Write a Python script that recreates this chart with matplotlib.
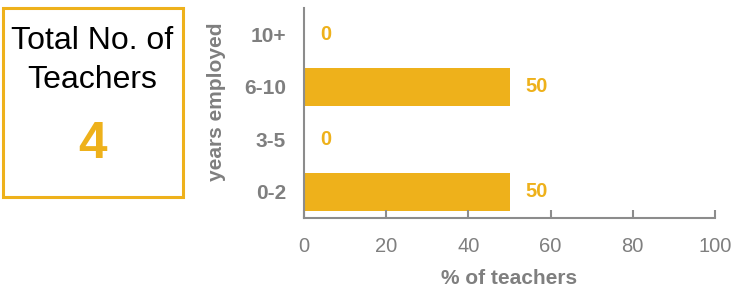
import matplotlib
matplotlib.use("Agg")
import matplotlib.pyplot as plt
from matplotlib.patches import Rectangle

# data
categories = ["0-2", "3-5", "6-10", "10+"]
pct_teachers = [50, 0, 50, 0]
total_teachers = 4
x_ticks = [0, 20, 40, 60, 80, 100]

ORANGE = "#EEB11B"
GRAY = "#7F7F7F"
AXGRAY = "#8C8C8C"

plt.rcParams["font.family"] = ["Liberation Sans", "DejaVu Sans"]

W, H = 736, 288
fig = plt.figure(figsize=(W / 100, H / 100), dpi=100)

# bar chart axes (pixel coords -> figure fractions)
ax_l, ax_r, ax_t, ax_b = 304, 715, 8, 218
ax = fig.add_axes([ax_l / W, 1 - ax_b / H, (ax_r - ax_l) / W, (ax_b - ax_t) / H])

y = range(len(categories))
ax.barh(y, pct_teachers, height=0.72, color=ORANGE)
ax.set_xlim(0, 100)
ax.set_ylim(-0.5, len(categories) - 0.5)
ax.set_xticks(x_ticks)
ax.set_xticklabels([str(t) for t in x_ticks], fontsize=14.5, color=GRAY)
ax.set_yticks(list(y))
ax.set_yticklabels(categories, fontsize=15, fontweight="bold", color=GRAY)

ax.tick_params(axis="x", direction="in", length=6, width=1.5, color=AXGRAY, pad=14)
ax.tick_params(axis="y", length=0, pad=13)
for side in ["top", "right"]:
    ax.spines[side].set_visible(False)
for side in ["left", "bottom"]:
    ax.spines[side].set_color(AXGRAY)
    ax.spines[side].set_linewidth(1.5)

ax.set_xlabel("% of teachers", fontsize=15, fontweight="bold", color=GRAY, labelpad=9)
ax.set_ylabel("years employed", fontsize=15, fontweight="bold", color=GRAY)
ax.yaxis.set_label_coords(-0.19, 0.552)

for yi, v in zip(y, pct_teachers):
    ax.annotate(str(v), (v, yi), xytext=(11.5, 0), textcoords="offset points",
                ha="left", va="center", fontsize=14.5, fontweight="bold", color=ORANGE)

# total box on the left
box = Rectangle((3 / W, 1 - 197 / H), 180 / W, 189 / H, transform=fig.transFigure,
                fill=False, edgecolor=ORANGE, linewidth=2.2)
fig.add_artist(box)
cx = 92.5 / W
fig.text(cx, 1 - 49 / H, "Total No. of", ha="center", va="baseline", fontsize=23, color="black")
fig.text(cx, 1 - 88 / H, "Teachers", ha="center", va="baseline", fontsize=23, color="black")
fig.text(cx, 1 - 158 / H, str(total_teachers), ha="center", va="baseline", fontsize=37,
         fontweight="bold", color=ORANGE)

fig.savefig("out.png", dpi=100)
